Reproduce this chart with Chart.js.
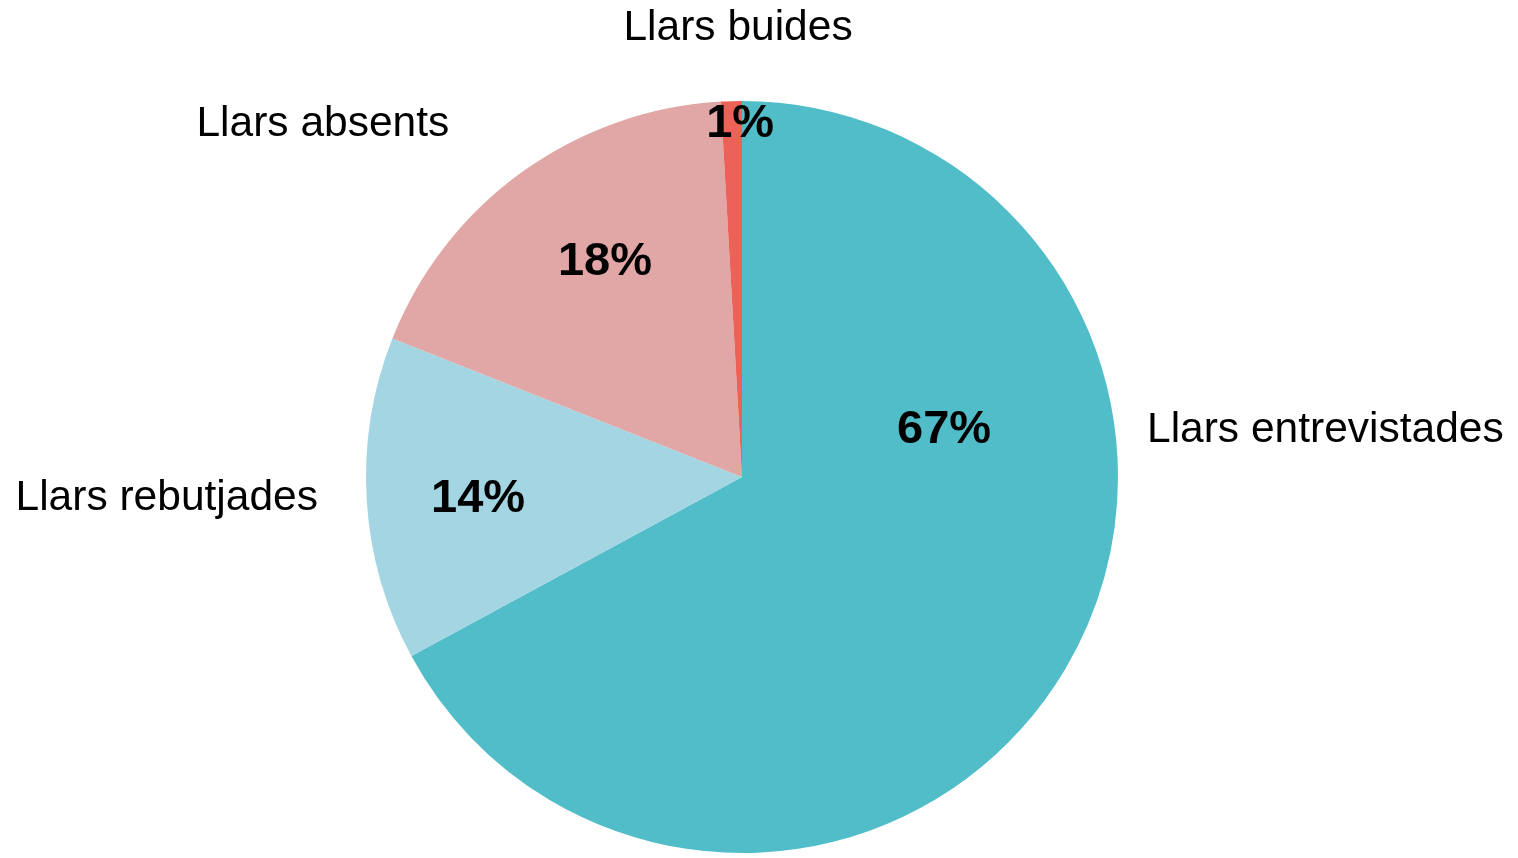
<!DOCTYPE html>
<html>
<head>
<meta charset="utf-8">
<script src="https://cdn.jsdelivr.net/npm/chart.js@4/dist/chart.umd.min.js"></script>
<style>
  html, body { margin: 0; padding: 0; background: #ffffff; }
  #wrap { width: 1518px; height: 858px; position: relative; }
</style>
</head>
<body>
<div id="wrap"><canvas id="c" width="1518" height="858"></canvas></div>
<script>
// ---- data ----
const categories = ["Llars entrevistades", "Llars rebutjades", "Llars absents", "Llars buides"];
const shares = [67.1, 13.9, 18.1, 0.9];
const colors = ["#50BDC8", "#A3D5E3", "#E0A7A6", "#EC6158"];

// ---- label placement (angle clockwise from top in degrees, radius as fraction of pie radius) ----
const nameLayout = [
  { angle: 83.1, dist: 1.085, align: "left" },
  { angle: 267.4, dist: 1.129, align: "right" },
  { angle: 320.5, dist: 1.224, align: "right" },
  { angle: 359.5, dist: 1.2, align: "center" }
];
const pctLayout = [
  { angle: 76.4, dist: 0.553 },
  { angle: 265.7, dist: 0.704 },
  { angle: 327.7, dist: 0.682 },
  { angle: 359.7, dist: 0.944 }
];

const labelPlugin = {
  id: "pieLabels",
  afterDatasetsDraw(chart) {
    const ctx = chart.ctx;
    const meta = chart.getDatasetMeta(0);
    const data = chart.data.datasets[0].data;
    const total = data.reduce((a, b) => a + b, 0);
    ctx.save();
    ctx.fillStyle = "#000000";
    ctx.textBaseline = "middle";
    meta.data.forEach((arc, i) => {
      const cx = arc.x, cy = arc.y, R = arc.outerRadius;
      // percentage
      const p = pctLayout[i];
      let a = (p.angle - 90) * Math.PI / 180;
      ctx.font = "bold 47px 'Liberation Sans', Arial, sans-serif";
      ctx.textAlign = "center";
      ctx.fillText(Math.round(data[i] / total * 100) + "%", cx + p.dist * R * Math.cos(a), cy + p.dist * R * Math.sin(a) + 2);
      // category name
      const n = nameLayout[i];
      a = (n.angle - 90) * Math.PI / 180;
      ctx.font = "42.5px 'Liberation Sans', Arial, sans-serif";
      ctx.textAlign = n.align;
      ctx.fillText(chart.data.labels[i], cx + n.dist * R * Math.cos(a), cy + n.dist * R * Math.sin(a) + 2);
    });
    ctx.restore();
  }
};

new Chart(document.getElementById("c"), {
  type: "pie",
  data: {
    labels: categories,
    datasets: [{
      data: shares,
      backgroundColor: colors,
      borderWidth: 0
    }]
  },
  options: {
    responsive: false,
    animation: false,
    layout: { padding: { top: 101, bottom: 5, left: 366, right: 400 } },
    plugins: {
      legend: { display: false },
      tooltip: { enabled: false }
    }
  },
  plugins: [labelPlugin]
});
</script>
</body>
</html>
